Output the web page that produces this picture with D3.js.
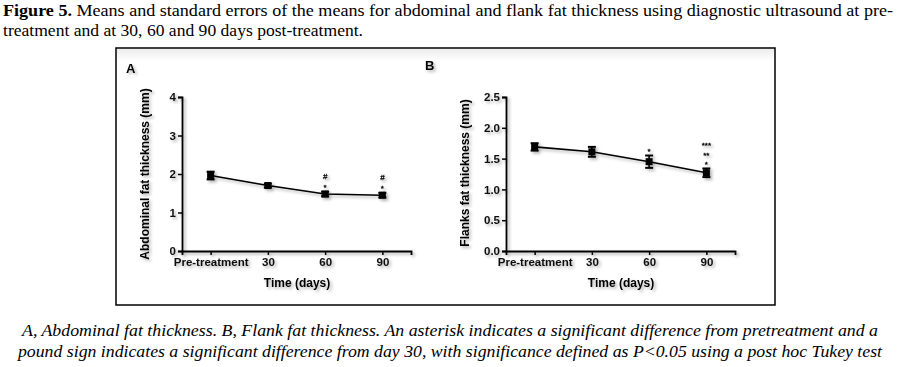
<!DOCTYPE html>
<html>
<head>
<meta charset="utf-8">
<script src="https://cdn.jsdelivr.net/npm/d3@7"></script>
<style>
  body { margin: 0; background: #fff; }
  svg { display: block; }
</style>
</head>
<body>
<script>
// data
const timepoints = ["Pre-treatment", "30", "60", "90"];
const abdominalMean = [1.96, 1.70, 1.48, 1.45];
const abdominalSem = [0.10, 0.05, 0.06, 0.06];
const abdominalMarks = [[], [], ["#", "*"], ["#", "*"]];
const flankMean = [1.69, 1.61, 1.45, 1.27];
const flankSem = [0.06, 0.08, 0.10, 0.07];
const flankMarks = [[], [], ["*"], ["***", "**", "*"]];
const abdominalTicks = [0, 1, 2, 3, 4];
const flankTicks = [0, 0.5, 1.0, 1.5, 2.0, 2.5];

const W = 900, H = 367;
const svg = d3.select("body").append("svg").attr("width", W).attr("height", H);

const defs = svg.append("defs");
const shadow = defs.append("filter").attr("id", "shadow")
  .attr("x", "-20%").attr("y", "-20%").attr("width", "140%").attr("height", "140%");
shadow.append("feDropShadow").attr("dx", 2).attr("dy", 2)
  .attr("stdDeviation", 1.4).attr("flood-color", "#000").attr("flood-opacity", 0.3);
const topFade = defs.append("linearGradient").attr("id", "topFade")
  .attr("x1", 0).attr("y1", 0).attr("x2", 0).attr("y2", 1);
topFade.append("stop").attr("offset", 0).attr("stop-color", "#ececec");
topFade.append("stop").attr("offset", 1).attr("stop-color", "#fff");

// captions
const serif = "'Liberation Serif', 'Times New Roman', serif";
const cap1 = svg.append("text").attr("x", 3).attr("y", 16)
  .attr("font-family", serif).attr("font-size", 16)
  .attr("textLength", 890).attr("lengthAdjust", "spacingAndGlyphs");
cap1.append("tspan").attr("font-weight", "bold").text("Figure 5.");
cap1.append("tspan").text(" Means and standard errors of the means for abdominal and flank fat thickness using diagnostic ultrasound at pre-");
svg.append("text").attr("x", 3).attr("y", 36)
  .attr("font-family", serif).attr("font-size", 16)
  .attr("textLength", 360).attr("lengthAdjust", "spacingAndGlyphs")
  .text("treatment and at 30, 60 and 90 days post-treatment.");

svg.append("text").attr("x", 22).attr("y", 336)
  .attr("font-family", serif).attr("font-size", 16).attr("font-style", "italic")
  .attr("textLength", 856).attr("lengthAdjust", "spacingAndGlyphs")
  .text("A, Abdominal fat thickness. B, Flank fat thickness. An asterisk indicates a significant difference from pretreatment and a");
svg.append("text").attr("x", 18).attr("y", 357)
  .attr("font-family", serif).attr("font-size", 16).attr("font-style", "italic")
  .attr("textLength", 864).attr("lengthAdjust", "spacingAndGlyphs")
  .text("pound sign indicates a significant difference from day 30, with significance defined as P<0.05 using a post hoc Tukey test");

// frame
svg.append("rect").attr("x", 117).attr("y", 49).attr("width", 657).attr("height", 12)
  .attr("fill", "url(#topFade)");
svg.append("rect").attr("x", 116).attr("y", 48).attr("width", 659).attr("height", 257)
  .attr("fill", "none").attr("stroke", "#000").attr("stroke-width", 1.5);

const sans = "'Liberation Sans', Arial, sans-serif";

function panel(opts) {
  const g = svg.append("g").attr("filter", "url(#shadow)")
    .attr("font-family", sans).attr("font-weight", "bold");

  const x = d3.scalePoint().domain(timepoints).range([opts.x0, opts.x0 + 229]).padding(0.5);
  const y = d3.scaleLinear().domain([0, opts.max]).range([251, 97]);

  const yAxis = g.append("g").attr("transform", `translate(${opts.x0},0)`)
    .call(d3.axisLeft(y).tickValues(opts.ticks).tickSize(4).tickPadding(2).tickFormat(opts.fmt));
  const xAxis = g.append("g").attr("transform", "translate(0,251)")
    .call(d3.axisBottom(x).tickSize(4).tickPadding(3));
  [yAxis, xAxis].forEach(a => {
    a.select(".domain").attr("stroke-width", 1.8);
    a.selectAll(".tick line").attr("stroke-width", 1.5);
    a.selectAll(".tick text").attr("font-size", 11.5).attr("font-family", sans)
      .attr("font-weight", "bold").attr("fill", "#111");
  });
  yAxis.selectAll(".tick text").attr("dy", "0.32em");

  g.append("text").attr("transform", `translate(${opts.titleX},${opts.titleY}) rotate(-90)`)
    .attr("text-anchor", "middle").attr("font-size", 12).text(opts.yTitle);
  g.append("text").attr("x", opts.x0 + 115).attr("y", 287)
    .attr("text-anchor", "middle").attr("font-size", 12).text("Time (days)");
  g.append("text").attr("x", opts.letterX).attr("y", opts.letterY)
    .attr("font-size", 13).text(opts.letter);

  const rows = timepoints.map((t, i) => ({ t, m: opts.mean[i], s: opts.sem[i], marks: opts.marks[i] }));

  g.append("path").datum(rows)
    .attr("fill", "none").attr("stroke", "#000").attr("stroke-width", 1.6)
    .attr("d", d3.line().x(d => x(d.t)).y(d => y(d.m)));

  const pts = g.selectAll(".pt").data(rows).enter().append("g");
  pts.append("line")
    .attr("x1", d => x(d.t)).attr("x2", d => x(d.t))
    .attr("y1", d => y(d.m - d.s)).attr("y2", d => y(d.m + d.s))
    .attr("stroke", "#000").attr("stroke-width", 1.6);
  [-1, 1].forEach(sg => {
    pts.append("line")
      .attr("x1", d => x(d.t) - 4).attr("x2", d => x(d.t) + 4)
      .attr("y1", d => y(d.m + sg * d.s)).attr("y2", d => y(d.m + sg * d.s))
      .attr("stroke", "#000").attr("stroke-width", 2);
  });
  pts.append("rect")
    .attr("x", d => x(d.t) - 3.5).attr("y", d => y(d.m) - 3.5)
    .attr("width", 7).attr("height", 7).attr("fill", "#000");

  // significance marks stacked above the upper cap, bottom row first
  pts.each(function (d) {
    const n = d.marks.length;
    const cap = y(d.m + d.s);
    d3.select(this).selectAll("text.mark").data(d.marks).enter().append("text")
      .attr("class", "mark")
      .attr("x", x(d.t)).attr("text-anchor", "middle")
      .attr("y", (m, j) => cap - 6 - (n - 1 - j) * 9.4 + (m[0] === "#" ? 2.8 : 4.6))
      .attr("font-size", 8).attr("font-weight", "normal").attr("fill", "#000")
      .attr("stroke", "#000").attr("stroke-width", 0.3)
      .text(m => m);
  });
}

panel({
  x0: 182, max: 4, ticks: abdominalTicks, fmt: d3.format("d"),
  mean: abdominalMean, sem: abdominalSem, marks: abdominalMarks,
  yTitle: "Abdominal fat thickness (mm)", titleX: 149, titleY: 174,
  letter: "A", letterX: 126, letterY: 73
});
panel({
  x0: 506, max: 2.5, ticks: flankTicks, fmt: d3.format(".1f"),
  mean: flankMean, sem: flankSem, marks: flankMarks,
  yTitle: "Flanks fat thickness (mm)", titleX: 469, titleY: 173,
  letter: "B", letterX: 425, letterY: 70
});
</script>
</body>
</html>
